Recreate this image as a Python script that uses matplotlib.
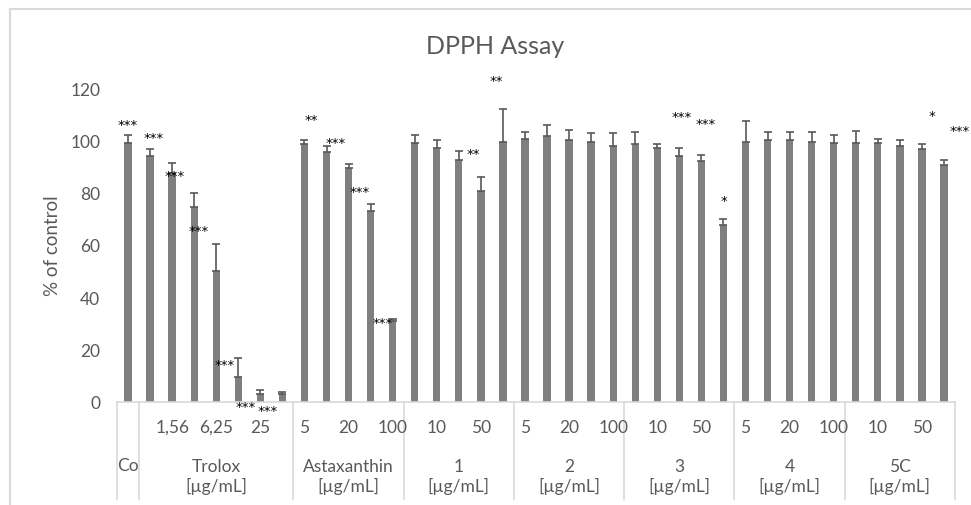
import matplotlib
matplotlib.use("Agg")
import matplotlib.pyplot as plt
from matplotlib.lines import Line2D
import numpy as np

plt.rcParams['font.family'] = ['Lato', 'DejaVu Sans']

# ---------------- data ----------------
groups = ["Co", "Trolox", "Astaxanthin", "1", "2", "3", "4", "5C"]
group_sizes = [1, 7, 5, 5, 5, 5, 5, 5]
unit = "[µg/mL]"

conc_trolox = ["0,78", "1,56", "3,125", "6,25", "12,5", "25", "50"]
conc_std = ["5", "10", "20", "50", "100"]
concentrations = [""] + conc_trolox + conc_std * 6

means = [99, 94, 87.5, 74.5, 50, 9.5, 3, 3,
         98.5, 95.5, 89.5, 73, 31,
         99, 97, 92.5, 80.5, 99.5,
         100.5, 101.5, 100, 99.5, 98,
         98.5, 97, 94, 92, 67.5,
         99.5, 100, 100, 99.5, 99,
         99, 99, 98, 96.5, 90.5]
errors = [3, 2.5, 4, 5.5, 10.5, 7.5, 1.5, 1,
          1.5, 2.5, 1.5, 2.5, 0.8,
          3, 3, 3.5, 5.5, 12.5,
          2.5, 4.5, 4, 3.3, 4.7,
          4.5, 1.5, 3, 2.5, 2.3,
          8, 3, 3, 3.8, 3,
          4.5, 1.7, 2, 2, 2]

# significance labels: bar index, text, y value of label, x offset (in bar slots)
sig_bar = [0, 1, 2, 3, 4, 5, 6, 8, 9, 10, 11, 15, 17, 24, 25, 27, 36, 37]
sig_text = ["***", "***", "***", "***", "***", "***", "***", "**", "***", "***",
            "***", "**", "**", "***", "***", "*", "*", "***"]
sig_y = [106.6, 101.5, 87.1, 66.1, 14.9, -1.2, -2.7, 108.4, 99.6, 81,
         30.9, 95.6, 123.4, 109.7, 106.9, 77.6, 110, 104.3]
sig_dx = [0.0, 0.15, 0.1, 0.2, 0.4, 0.35, 0.35, 0.3, 0.4, 0.5,
          0.55, 0.65, -0.3, 1.1, 1.2, 0.0, 0.45, 0.7]

# ---------------- figure ----------------
W, H = 971, 506
fig = plt.figure(figsize=(W / 100, H / 100), dpi=100)
ax_left, ax_right, ax_top, ax_bot = 117, 955, 89, 403
ax = fig.add_axes([ax_left / W, 1 - ax_bot / H, (ax_right - ax_left) / W, (ax_bot - ax_top) / H])

n = len(means)
x = np.arange(n)
bar_color = "#7f7f7f"
err_color = "#595959"
text_color = "#595959"

ax.bar(x, means, width=0.33, color=bar_color, zorder=2)
ax.errorbar(x, means, yerr=[np.zeros(n), errors], fmt="none", ecolor=err_color,
            elinewidth=1.2, capsize=3.2, capthick=1.2, zorder=3)

ax.set_xlim(-0.5, n - 0.5)
ax.set_ylim(0, 120)
ax.set_yticks(np.arange(0, 121, 20))
ax.tick_params(axis="y", length=0, pad=12, labelsize=12.5, labelcolor=text_color)
ax.set_xticks([])
for s in ["top", "right", "left"]:
    ax.spines[s].set_visible(False)
ax.spines["bottom"].set_color("#d9d9d9")
ax.spines["bottom"].set_linewidth(1.2)

ax.set_ylabel("% of control", fontsize=13.5, color=text_color, labelpad=7)

# concentration labels (every other category)
trans = ax.get_xaxis_transform()
ph = ax_bot - ax_top
for i, lab in enumerate(concentrations):
    if i % 2 == 0 and lab:
        ax.text(x[i], -25 / ph, lab, transform=trans, ha="center", va="center",
                fontsize=12.5, color=text_color, clip_on=False)

# group labels and separators
bounds = np.concatenate([[0], np.cumsum(group_sizes)]) - 0.5
sep_bottom = -97 / ph
for b in bounds:
    ax.add_line(Line2D([b, b], [0, sep_bottom], transform=trans, color="#d9d9d9",
                       lw=1.2, clip_on=False))
for gi, g in enumerate(groups):
    c = (bounds[gi] + bounds[gi + 1]) / 2
    if g == "Co":
        ax.text(c, -63 / ph, g, transform=trans, ha="center", va="center",
                fontsize=12.5, color=text_color, clip_on=False)
    else:
        ax.text(c, -74 / ph, g + "\n" + unit, transform=trans, ha="center",
                va="center", fontsize=12.5, color=text_color, linespacing=1.2, clip_on=False)

# significance stars
for b, t, yv, dx in zip(sig_bar, sig_text, sig_y, sig_dx):
    ax.text(x[b] + dx, yv, t, ha="center", va="center_baseline", fontsize=9.5,
            family="DejaVu Sans", color="black", clip_on=False, zorder=4)

fig.text(495 / W, 1 - 47 / H, "DPPH Assay", ha="center", va="center", fontsize=18,
         color=text_color)

# chart border
fig.add_artist(Line2D([10 / W, 10 / W], [1 - 10 / H, 0], transform=fig.transFigure,
                      color="#d9d9d9", lw=1.5))
fig.add_artist(Line2D([10 / W, 1], [1 - 10 / H, 1 - 10 / H], transform=fig.transFigure,
                      color="#d9d9d9", lw=1.5))

fig.savefig("out.png", dpi=100)
